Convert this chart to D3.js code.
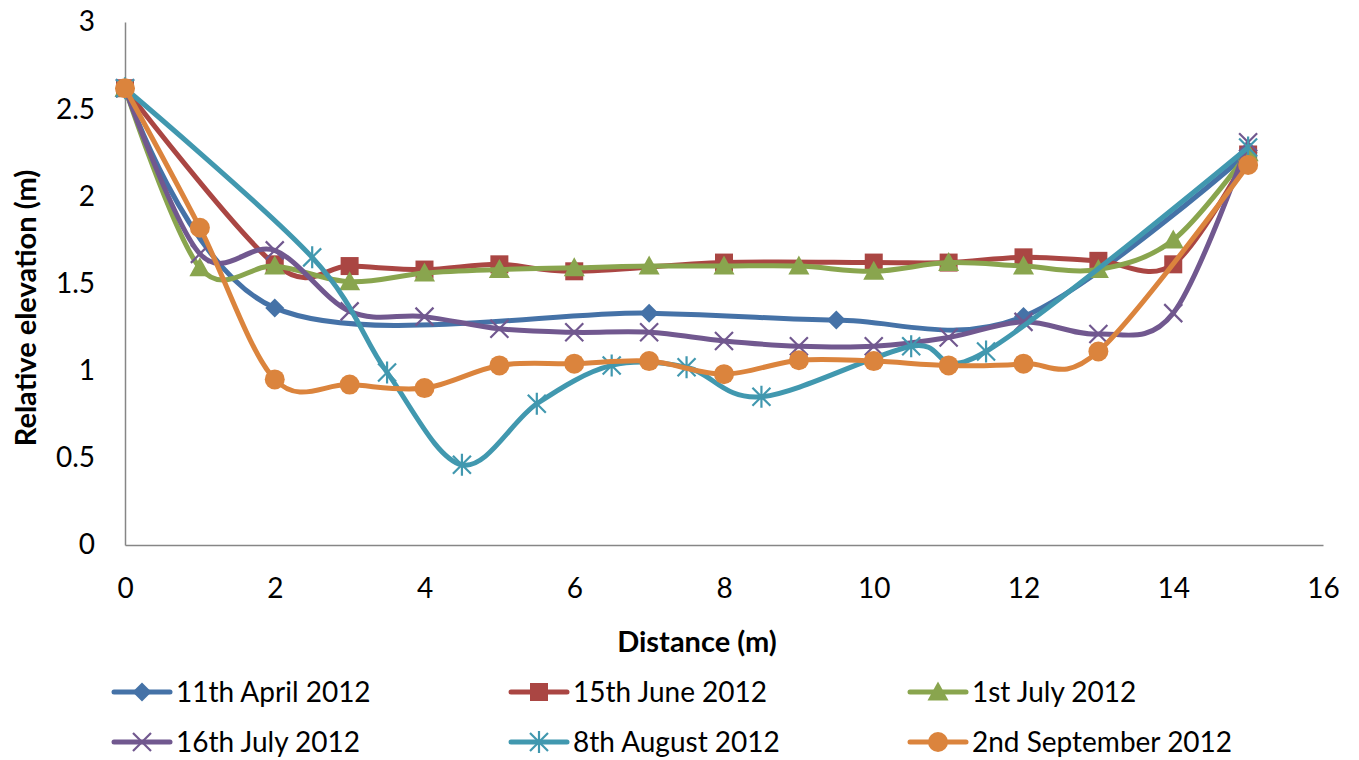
<!DOCTYPE html>
<html>
<head>
<meta charset="utf-8">
<script src="https://cdn.jsdelivr.net/npm/d3@7"></script>
<style>
  body { margin: 0; background: #fff; }
  svg { display: block; }
  text { font-family: Lato, "Liberation Sans", sans-serif; fill: #000; }
</style>
</head>
<body>
<div id="chart"></div>
<script>
// values, distance (m) / relative elevation (m)
const seriesNames = ["11th April 2012", "15th June 2012", "1st July 2012",
                     "16th July 2012", "8th August 2012", "2nd September 2012"]

const aprilX = [0, 2, 7, 9.5, 12, 15]
const aprilY = [2.62, 1.36, 1.33, 1.29, 1.31, 2.25]

const juneX = [0, 2, 3, 4, 5, 6, 8, 10, 11, 12, 13, 14, 15]
const juneY = [2.62, 1.61, 1.6, 1.58, 1.61, 1.57, 1.62, 1.62, 1.62, 1.65, 1.63, 1.61, 2.24]

const julyX = [0, 1, 2, 3, 4, 5, 6, 7, 8, 9, 10, 11, 12, 13, 14, 15]
const julyY = [2.62, 1.59, 1.6, 1.51, 1.56, 1.58, 1.59, 1.6, 1.6, 1.6, 1.57, 1.62, 1.6, 1.58, 1.75, 2.25]

const midJulyX = [0, 1, 2, 3, 4, 5, 6, 7, 8, 9, 10, 11, 12, 13, 14, 15]
const midJulyY = [2.62, 1.67, 1.69, 1.34, 1.31, 1.24, 1.22, 1.22, 1.17, 1.14, 1.14, 1.19, 1.28, 1.21, 1.33, 2.31]

const augustX = [0, 2.5, 3.5, 4.5, 5.5, 6.5, 7.5, 8.5, 10.5, 11.5, 15]
const augustY = [2.62, 1.65, 0.99, 0.46, 0.81, 1.03, 1.02, 0.85, 1.14, 1.11, 2.28]

const septX = [0, 1, 2, 3, 4, 5, 6, 7, 8, 9, 10, 11, 12, 13, 15]
const septY = [2.62, 1.82, 0.95, 0.92, 0.9, 1.03, 1.04, 1.055, 0.98, 1.06, 1.055, 1.03, 1.04, 1.11, 2.18]

const xTicks = [0, 2, 4, 6, 8, 10, 12, 14, 16]
const yTicks = [0, 0.5, 1, 1.5, 2, 2.5, 3]

const colors = ["#4572a7", "#aa4643", "#89a54e", "#71588f", "#4198af", "#db843d"]
const markers = ["diamond", "square", "triangle", "cross", "star", "circle"]

const series = [
    [aprilX, aprilY], [juneX, juneY], [julyX, julyY],
    [midJulyX, midJulyY], [augustX, augustY], [septX, septY]
].map(([xs, ys], i) => ({
    name: seriesNames[i], color: colors[i], marker: markers[i],
    points: xs.map((x, j) => ({x: x, y: ys[j]}))
}))

const width = 1359, height = 760
const margin = {top: 22, right: 36, bottom: 215, left: 125}
const fontSize = 28

const svg = d3.select('#chart').append('svg')
    .attr('width', width)
    .attr('height', height)

const x = d3.scaleLinear().domain([0, 16]).range([margin.left, width - margin.right])
const y = d3.scaleLinear().domain([0, 3]).range([height - margin.bottom, margin.top])

// axes (Excel style: plain grey lines, no ticks)
const xAxis = svg.append('g')
    .attr('transform', `translate(0,${y(0)})`)
    .call(d3.axisBottom(x).tickValues(xTicks).tickSize(0).tickPadding(33).tickFormat(d3.format('')))
const yAxis = svg.append('g')
    .attr('transform', `translate(${x(0)},0)`)
    .call(d3.axisLeft(y).tickValues(yTicks).tickSize(0).tickPadding(30).tickFormat(d3.format('')))

;[xAxis, yAxis].forEach(a => {
    a.select('.domain').attr('stroke', '#868686').attr('stroke-width', 1.5)
    a.selectAll('text').style('font-size', fontSize + 'px').style('font-family', 'Lato, "Liberation Sans", sans-serif')
})

svg.append('text')
    .attr('x', 697).attr('y', 652)
    .attr('text-anchor', 'middle')
    .style('font-size', '29px').style('font-weight', 'bold')
    .text('Distance (m)')

svg.append('text')
    .attr('transform', `translate(36,308) rotate(-90)`)
    .attr('text-anchor', 'middle')
    .style('font-size', '29px').style('font-weight', 'bold')
    .text('Relative elevation (m)')

function drawMarker(g, type, color, cx, cy) {
    const s = 9.5
    if (type === 'diamond') {
        g.append('path').attr('d', `M${cx},${cy - s}L${cx + s},${cy}L${cx},${cy + s}L${cx - s},${cy}Z`).attr('fill', color)
    } else if (type === 'square') {
        g.append('rect').attr('x', cx - 9).attr('y', cy - 9).attr('width', 18).attr('height', 18).attr('fill', color)
    } else if (type === 'triangle') {
        g.append('path').attr('d', `M${cx},${cy - 10.5}L${cx + 10.5},${cy + 8.5}L${cx - 10.5},${cy + 8.5}Z`).attr('fill', color)
    } else if (type === 'circle') {
        g.append('circle').attr('cx', cx).attr('cy', cy).attr('r', 10).attr('fill', color)
    } else {
        const d = 9
        let p = `M${cx - d},${cy - d}L${cx + d},${cy + d}M${cx + d},${cy - d}L${cx - d},${cy + d}`
        if (type === 'star') p += `M${cx},${cy - 11}L${cx},${cy + 11}`
        g.append('path').attr('d', p).attr('stroke', color).attr('stroke-width', 2.2).attr('fill', 'none')
    }
}

const line = d3.line()
    .x(d => x(d.x))
    .y(d => y(d.y))
    .curve(d3.curveCatmullRom.alpha(0))

series.forEach(s => {
    const g = svg.append('g')
    g.append('path')
        .attr('d', line(s.points))
        .attr('fill', 'none')
        .attr('stroke', s.color)
        .attr('stroke-width', 5)
        .attr('stroke-linejoin', 'round')
    s.points.forEach(p => drawMarker(g, s.marker, s.color, x(p.x), y(p.y)))
})

// legend, 3 columns x 2 rows
const legendCols = [114, 511, 910]
const legendRows = [692, 742]
series.forEach((s, i) => {
    const lx = legendCols[i % 3], ly = legendRows[Math.floor(i / 3)]
    const g = svg.append('g')
    g.append('line')
        .attr('x1', lx).attr('x2', lx + 56)
        .attr('y1', ly).attr('y2', ly)
        .attr('stroke', s.color).attr('stroke-width', 5)
        .attr('stroke-linecap', 'round')
    drawMarker(g, s.marker, s.color, lx + 28, ly)
    g.append('text')
        .attr('x', lx + 62).attr('y', ly)
        .attr('dy', '0.35em')
        .style('font-size', fontSize + 'px')
        .text(s.name)
})
</script>
</body>
</html>
